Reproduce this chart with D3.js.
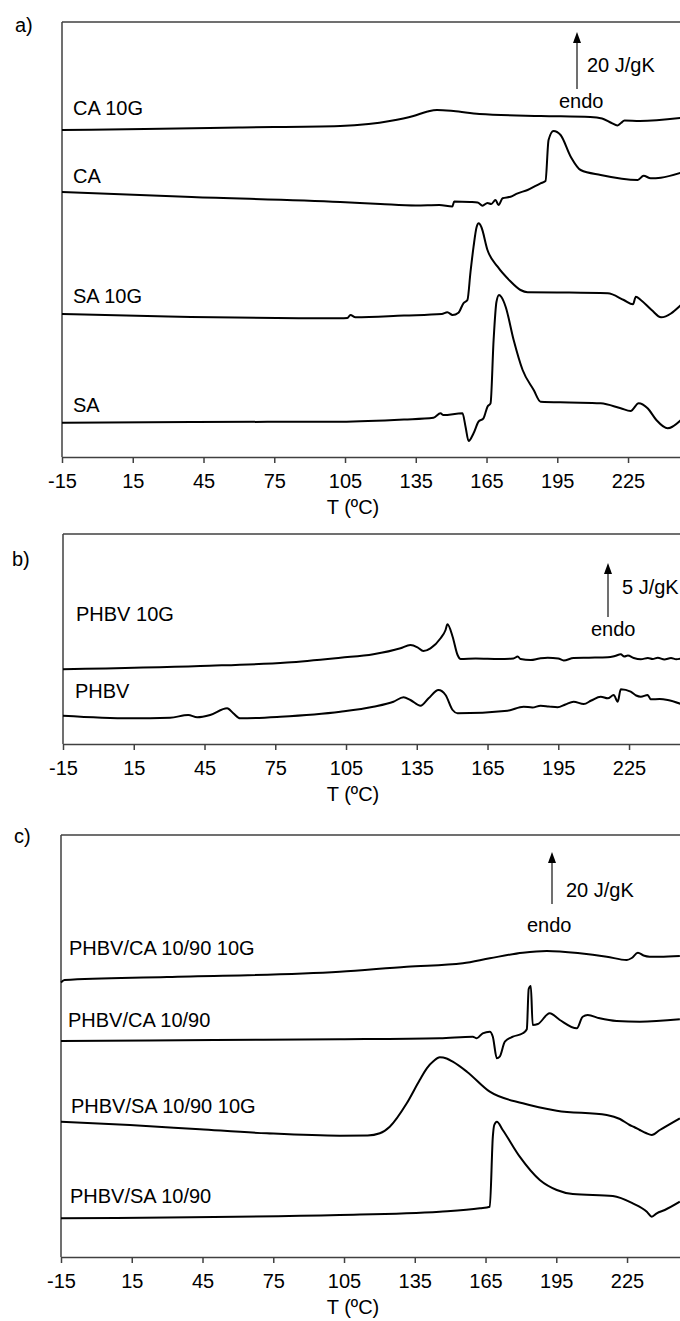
<!DOCTYPE html>
<html><head><meta charset="utf-8">
<script src="https://cdn.jsdelivr.net/npm/d3@7"></script>
<style>
body{margin:0;background:#fff}
svg text{font-family:"Liberation Sans",Arial,sans-serif;font-size:20px;fill:#000}
</style>
</head><body>
<svg id="chart" width="680" height="1321"></svg>
<script>
// ---- data: [temperature °C, heat flow (a.u., offset)] ----
const xTicks = [-15, 15, 45, 75, 105, 135, 165, 195, 225];

const ca10G = [[-15,327],[20,328],[60,329.5],[103,331],[115,333],[124,336],[134,341],[140,345.5],[144,347],[151,346],[162,343],[188,341],[209,340],[214,338.5],[218,334],[220.5,331.5],[222,334],[223.5,336.5],[230,336],[247.4,339]];
const ca = [[-15,265],[40,260],[103,255],[120,253],[135,251.5],[145,252],[150.5,250.5],[151.3,255.5],[158,255],[161.2,254.5],[163.3,251.3],[165.4,254],[167,253],[168.8,257],[170.1,252],[171.8,258.7],[175.2,260.3],[178.2,263.7],[182.4,267],[187.9,273.7],[190,276],[191.3,317],[193.4,326],[196.4,322],[200.7,300.3],[204.9,287],[213.4,282],[229.1,277],[231.6,281.3],[234.6,278.7],[238.9,279.3],[247.4,284.3]];
const sa10G = [[-15,143],[30,140.5],[103,138.7],[106,139],[107.3,142],[109.4,139.7],[130,141.5],[146,143],[148.4,144.7],[150.6,142],[153.1,144.3],[155.2,153.7],[156.9,157],[158.2,185],[159.5,210.3],[160.8,230],[161.7,233.7],[162.8,230],[165.4,207],[169.7,190.3],[175,176],[179.4,167],[182.4,164.7],[200,164.5],[216.4,163.7],[223.2,157],[227.1,152.7],[228.3,160.3],[230.4,157],[235,147],[239,139.7],[247.4,152]];
const sa = [[-15,34.3],[40,35],[103,35.3],[130,37.5],[142.5,39.3],[145.5,43.7],[146.7,42],[154.8,43.7],[156.1,30.3],[157.4,16],[159.5,23.7],[161.6,35.3],[163.7,38.7],[165.4,50.3],[166.7,53.7],[168,117],[169.2,155],[170.3,162],[171.3,160],[173.1,150.3],[176.5,117],[180.3,87],[185,67],[187.9,55.3],[200,54.5],[213.4,53.7],[221.9,48.7],[226.1,46],[229.5,53.7],[233.3,48.7],[237,37],[241.8,28.7],[247.4,37]];

const phbv10G = [[-15,74.7],[43.2,78],[80,81.5],[102.6,86.3],[116.6,89.7],[128.1,95.7],[132.3,99],[135.3,96.7],[137.8,93],[140.8,95.7],[145.1,105.7],[147.2,114],[148,119.7],[150.2,107.3],[152.3,89],[153.6,85],[160,85.5],[170,85],[176,85.5],[177.8,87.5],[179,85],[183.3,84],[187,85.5],[190.5,86.3],[195,85.5],[197.3,83.5],[201.5,86],[208,86.3],[216,86.7],[219,88],[221.5,89.7],[223,87.5],[224.5,88.5],[227,86],[230,84.7],[233,86],[235,85],[237.2,86.3],[240,84.5],[242.8,86],[245,84.8],[247,85.5]];
const phbv = [[-15,28.3],[13.4,25.7],[30.4,26.3],[38.1,29],[41.9,26.7],[47.4,29],[54.6,35.7],[57.2,30.7],[60.1,25.7],[77.1,27.3],[102.6,32.3],[116.6,37.3],[125.1,42.3],[129.4,46.7],[132.3,44],[136.6,38.3],[140,45.7],[144.2,54],[147.2,49],[150.2,34],[152.3,30.7],[173.5,33.3],[180.3,37.3],[184,36.5],[187.5,38.3],[191,37.5],[194.7,36.7],[198,39.5],[201.5,42.3],[205.8,40],[209,43.5],[213,47.3],[216,45.7],[218.5,49],[220.2,42.3],[221.5,54.7],[225.7,52.3],[228,48.5],[230,47.3],[232.9,49],[234.2,44.7],[238,45],[241.4,44],[247,40]];

const phbvCa10G = [[-15,274.5],[-13.5,277],[30,280],[103.2,285.3],[131.6,290.3],[155.4,293.7],[166.8,298.7],[180.8,304.3],[191,306],[205,303.7],[216.4,300.3],[224.9,297],[227,299],[229.6,304.3],[232,301.5],[234.6,300.3],[238.9,300.3],[247.4,301]];
const phbvCa = [[-15,216],[50,217],[103.2,217.7],[145.6,218.7],[159.6,220.3],[161.3,218.7],[163.8,223.7],[166.8,225.3],[168.1,220.3],[169.8,198.7],[171,200.3],[173.2,215.3],[176.6,220.3],[180.8,223.7],[182.5,227.7],[183.3,268],[184.2,271],[185,232],[187.2,233],[192.2,243.7],[196.5,237],[203.7,228.7],[206.2,240.3],[208.3,242],[213.4,238.7],[220.6,236],[230.4,235.3],[247.4,237.7]];
const phbvSa10G = [[-15,135.3],[14.2,132],[43.9,127.7],[72.3,123.7],[103.2,121.3],[115,121.5],[120.2,123.7],[124.4,130.3],[131.6,153.7],[137.1,177],[140.1,188.7],[143,196],[145.6,199.7],[148.5,198.5],[151.1,195.3],[157.1,185.3],[166.8,165.3],[180.8,153.7],[195.2,146.3],[216.4,142],[222,138],[226.1,132],[228,130],[230.4,127],[233,124],[235.5,122],[238.9,127],[247.4,138.7]];
const phbvSa = [[-15,38.7],[103.2,42],[145.6,45.3],[162.6,48.7],[166.8,50.3],[168.1,120.3],[168.7,132],[169.8,135.3],[172.3,127],[179.5,100.3],[188,77],[195.2,67],[202,63],[219,61],[227.4,53.7],[233.4,45.3],[235.5,40.3],[237.6,43.7],[241,47],[247.4,55.3]];

// ---- layout ----
const panels = [
  {tag:"a)", tagX:15, tagY:32, top:22, bottom:457, left:62,
   series:[{name:"CA 10G",data:ca10G,lx:73,ly:115},{name:"CA",data:ca,lx:73,ly:183},
           {name:"SA 10G",data:sa10G,lx:73,ly:303},{name:"SA",data:sa,lx:73,ly:412}],
   arrow:{x:577,y1:32,y2:89,scale:"20 J/gK",sx:587,sy:72,ex:559,ey:108}},
  {tag:"b)", tagX:12, tagY:566, top:534, bottom:744, left:63,
   series:[{name:"PHBV 10G",data:phbv10G,lx:76,ly:621},{name:"PHBV",data:phbv,lx:75,ly:698}],
   arrow:{x:608,y1:563,y2:617,scale:"5 J/gK",sx:622,sy:594,ex:591,ey:636}},
  {tag:"c)", tagX:14, tagY:843, top:835, bottom:1257, left:61,
   series:[{name:"PHBV/CA 10/90 10G",data:phbvCa10G,lx:69,ly:955},{name:"PHBV/CA 10/90",data:phbvCa,lx:68,ly:1027},
           {name:"PHBV/SA 10/90 10G",data:phbvSa10G,lx:71,ly:1113},{name:"PHBV/SA 10/90",data:phbvSa,lx:70,ly:1203}],
   arrow:{x:552,y1:852,y2:904,scale:"20 J/gK",sx:566,sy:897,ex:527,ey:932}}
];

const svg = d3.select("#chart");
const axisColor = "#404040";

panels.forEach(p => {
  const x = d3.scaleLinear().domain([-15, 250]).range([p.left, p.left + 625]);
  const y = d3.scaleLinear().domain([0, p.bottom - p.top]).range([p.bottom, p.top]);
  const g = svg.append("g");

  // frame: top border and left axis
  g.append("line").attr("x1", p.left).attr("x2", 680).attr("y1", p.top).attr("y2", p.top)
    .attr("stroke", axisColor).attr("stroke-width", 1.5);
  g.append("line").attr("x1", p.left).attr("x2", p.left).attr("y1", p.top).attr("y2", p.bottom)
    .attr("stroke", axisColor).attr("stroke-width", 1.5);

  // bottom axis
  const ax = g.append("g").attr("transform", `translate(0,${p.bottom})`)
    .call(d3.axisBottom(x).tickValues(xTicks).tickSize(6).tickSizeOuter(0).tickPadding(11).tickFormat(d => String(d)));
  ax.select(".domain").attr("stroke", axisColor).attr("stroke-width", 1.5);
  ax.selectAll(".tick line").attr("stroke", axisColor).attr("stroke-width", 1.5);
  ax.selectAll(".tick text").attr("fill", "#000").style("font-size", "20px")
    .style("font-family", '"Liberation Sans",Arial,sans-serif');

  g.append("text").attr("x", 353).attr("y", p.bottom + 57).attr("text-anchor", "middle").text("T (ºC)");
  g.append("text").attr("x", p.tagX).attr("y", p.tagY).text(p.tag);

  const line = d3.line().x(d => x(d[0])).y(d => y(d[1])).curve(d3.curveMonotoneX);
  p.series.forEach(s => {
    g.append("path").datum(s.data).attr("d", line)
      .attr("fill", "none").attr("stroke", "#000").attr("stroke-width", 2).attr("stroke-linejoin", "round");
    g.append("text").attr("x", s.lx).attr("y", s.ly).text(s.name);
  });

  // endo arrow
  const a = p.arrow;
  g.append("line").attr("x1", a.x).attr("x2", a.x).attr("y1", a.y2).attr("y2", a.y1 + 6)
    .attr("stroke", axisColor).attr("stroke-width", 1.5);
  g.append("path").attr("d", `M${a.x},${a.y1} L${a.x - 4},${a.y1 + 11} L${a.x + 4},${a.y1 + 11} Z`).attr("fill", "#000");
  g.append("text").attr("x", a.sx).attr("y", a.sy).text(a.scale);
  g.append("text").attr("x", a.ex).attr("y", a.ey).text("endo");
});
</script>
</body></html>
